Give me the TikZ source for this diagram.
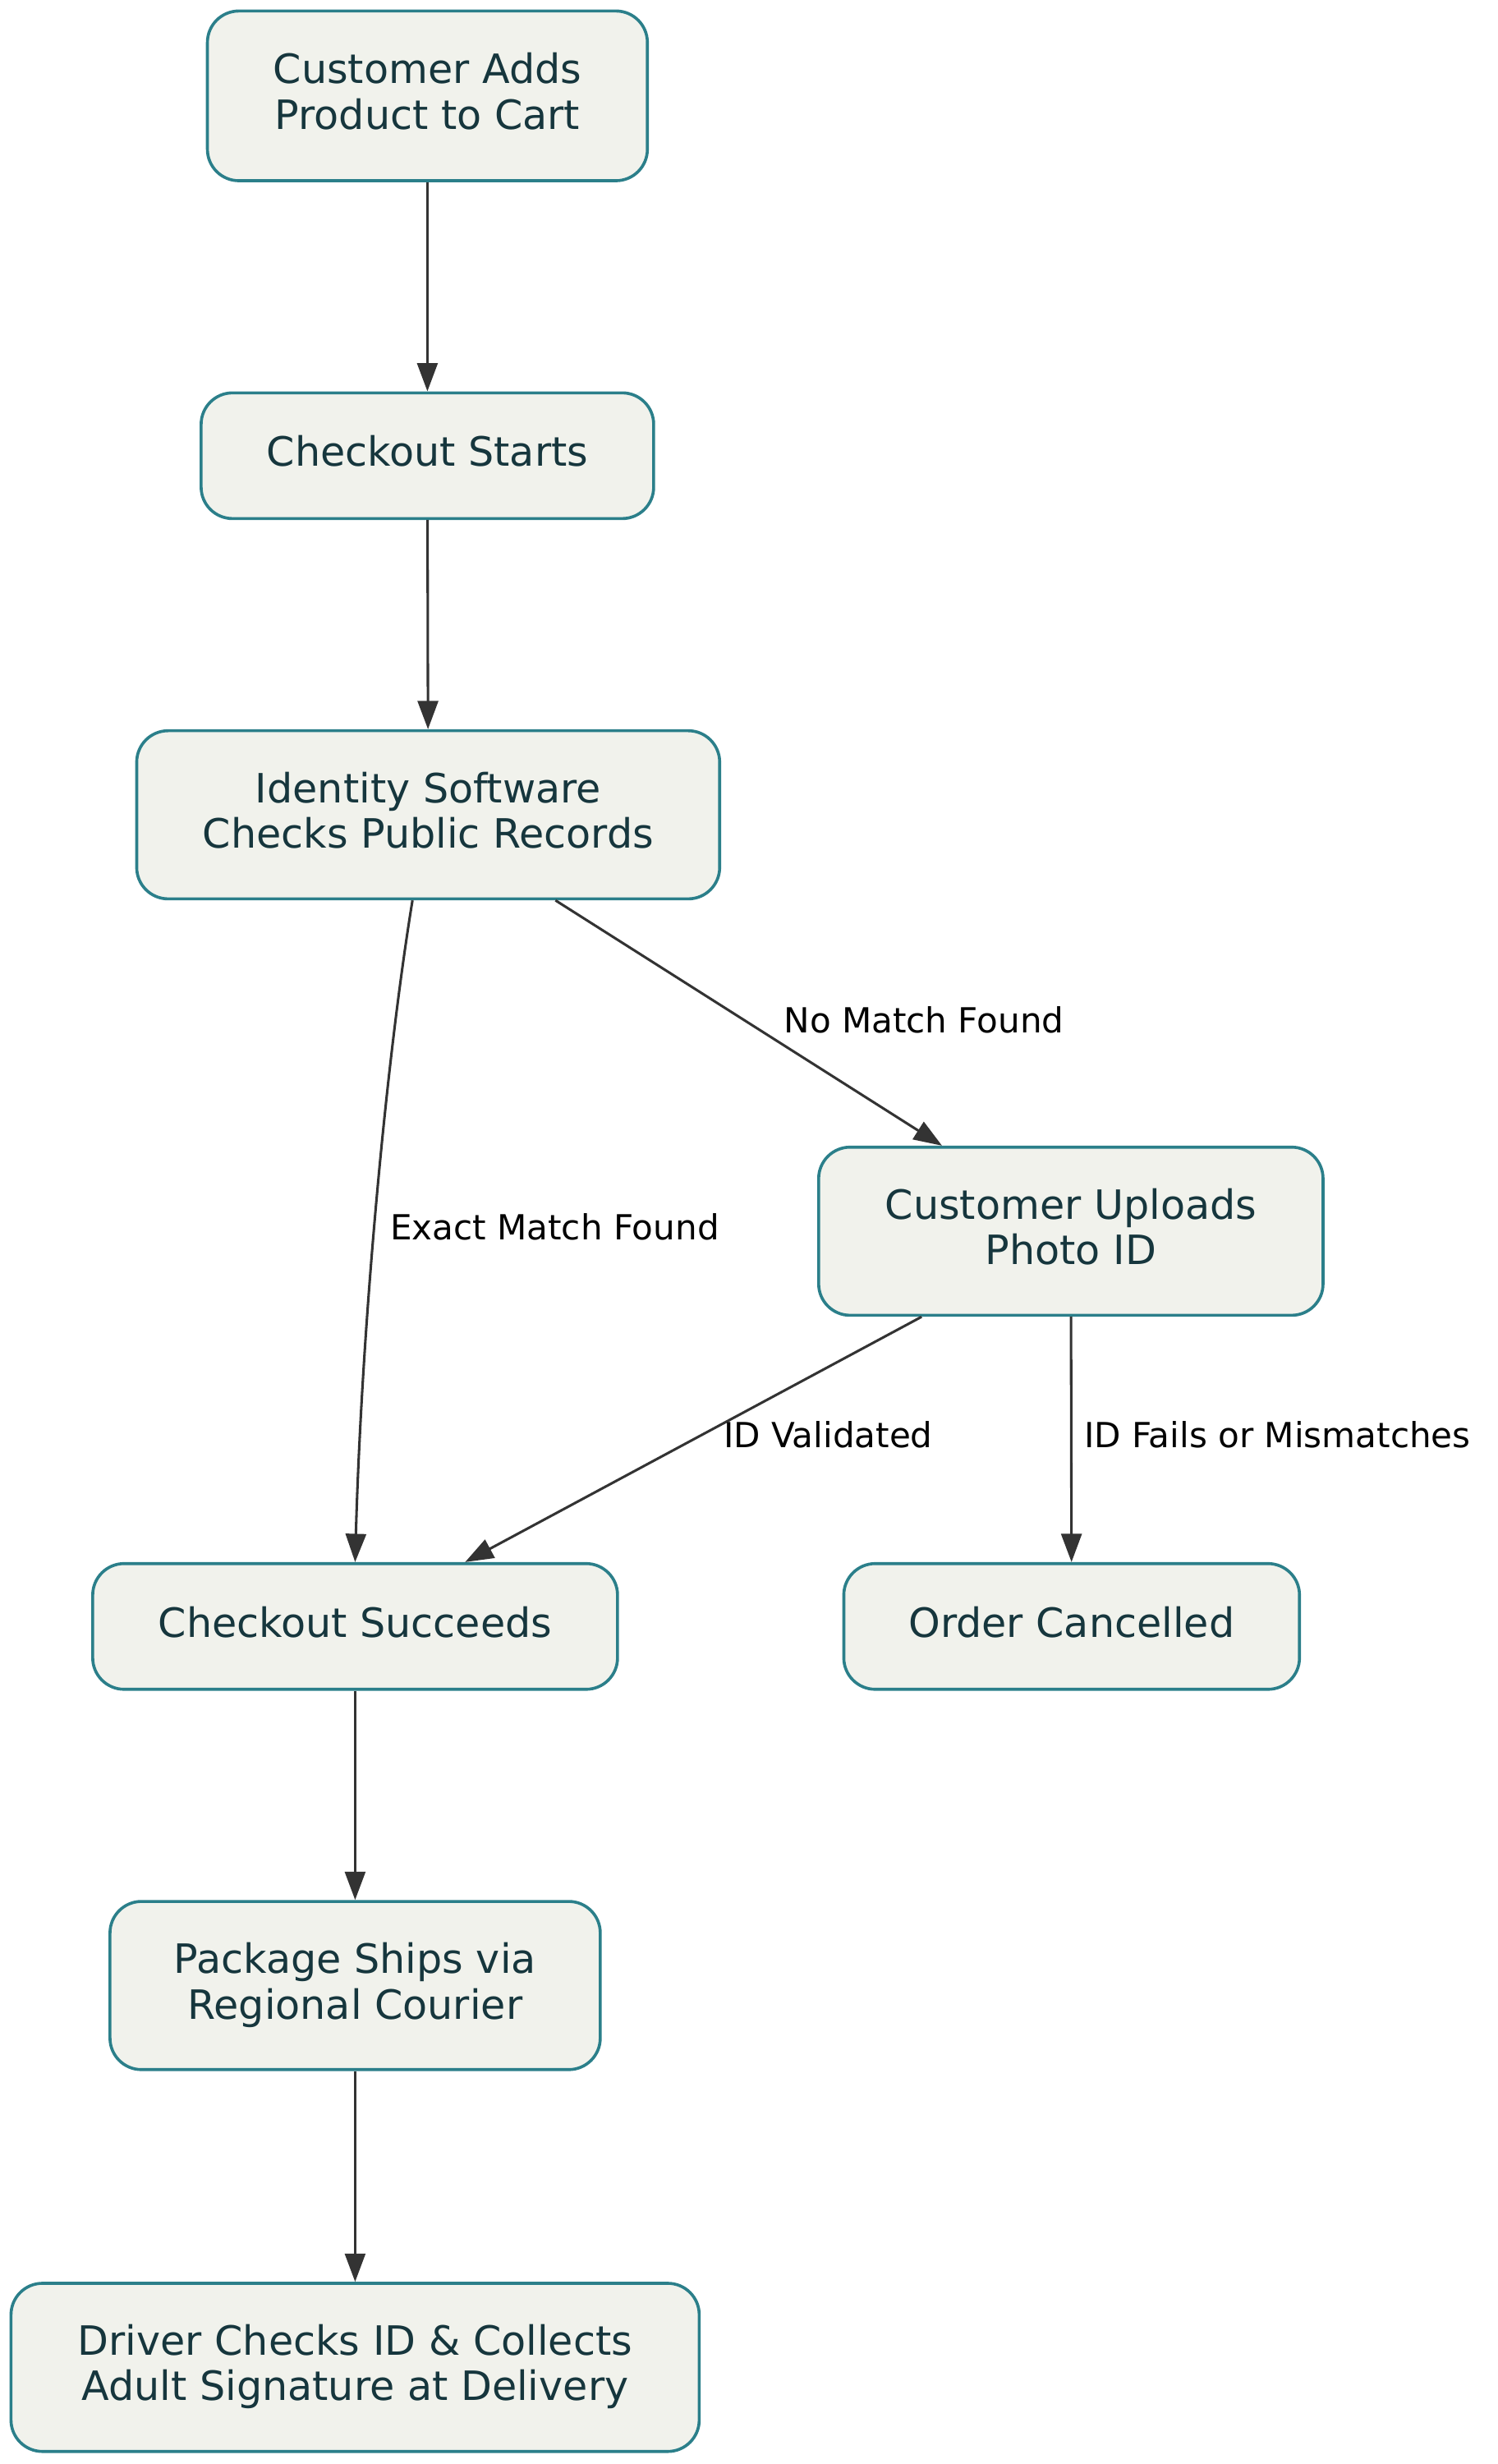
\documentclass[tikz,border=0pt]{standalone}
\usepackage{fontspec}
\setmainfont{DejaVu Sans}
\usetikzlibrary{arrows.meta}
\definecolor{nodefill}{HTML}{F1F2EC}
\definecolor{nodeborder}{HTML}{2B7F8A}
\definecolor{nodetext}{HTML}{16363D}
\definecolor{edgecol}{HTML}{333333}
\newcommand{\lowstrut}{\rule[-0.236em]{0pt}{0pt}}
\tikzset{
  box/.style={draw=nodeborder, fill=nodefill, line width=1.9pt, rounded corners=20pt,
    text=nodetext, align=center, inner sep=0pt,
    font=\fontsize{25.7}{29}\selectfont},
  flow/.style={draw=edgecol, line width=1.6pt, -{Triangle[length=18pt,width=13pt]}},
  elabel/.style={text=black, font=\fontsize{22}{26}\selectfont, inner sep=0pt}
}
\begin{document}
\begin{tikzpicture}[x=1pt,y=-1pt]
\useasboundingbox (0,0) rectangle (953,1568);
\node[box, minimum width=280pt, minimum height=108pt] (n1) at (272,61) {Customer Adds\\Product to Cart\lowstrut};
\node[box, minimum width=288pt, minimum height=80pt] (n2) at (272,290) {Checkout Starts\lowstrut};
\node[box, minimum width=371pt, minimum height=107pt] (n3) at (272.5,518.5) {Identity Software\\Checks Public Records\lowstrut};
\node[box, minimum width=321pt, minimum height=107pt] (n4) at (681.5,783.5) {Customer Uploads\\Photo ID\lowstrut};
\node[box, minimum width=334pt, minimum height=80pt] (n5) at (226,1035) {Checkout Succeeds\lowstrut};
\node[box, minimum width=290pt, minimum height=80pt] (n6) at (682,1035) {Order Cancelled\lowstrut};
\node[box, minimum width=312pt, minimum height=107pt] (n7) at (226,1263.5) {Package Ships via\\Regional Courier\lowstrut};
\node[box, minimum width=438pt, minimum height=107pt] (n8) at (226,1506.5) {Driver Checks ID \& Collects\\Adult Signature at Delivery\lowstrut};

\draw[flow] (n1) -- (n2);
\draw[flow] (n2) -- (n3);
\draw[flow] ([xshift=-10pt]n3.south) .. controls (245,680) and (230,850) .. (n5.north);
\draw[flow] ([xshift=81pt]n3.south) -- ([xshift=-82pt]n4.north);
\draw[flow] ([xshift=-95pt]n4.south) -- ([xshift=70pt]n5.north);
\draw[flow] (n4) -- (n6);
\draw[flow] (n5) -- (n7);
\draw[flow] (n7) -- (n8);

\node[elabel] (l1) at (353,781) {Exact Match Found};
\node[elabel] (l2) at (588,649) {No Match Found};
\node[elabel] (l3) at (527,913) {ID Validated};
\node[elabel] (l4) at (813,913) {ID Fails or Mismatches};
\end{tikzpicture}
\end{document}
